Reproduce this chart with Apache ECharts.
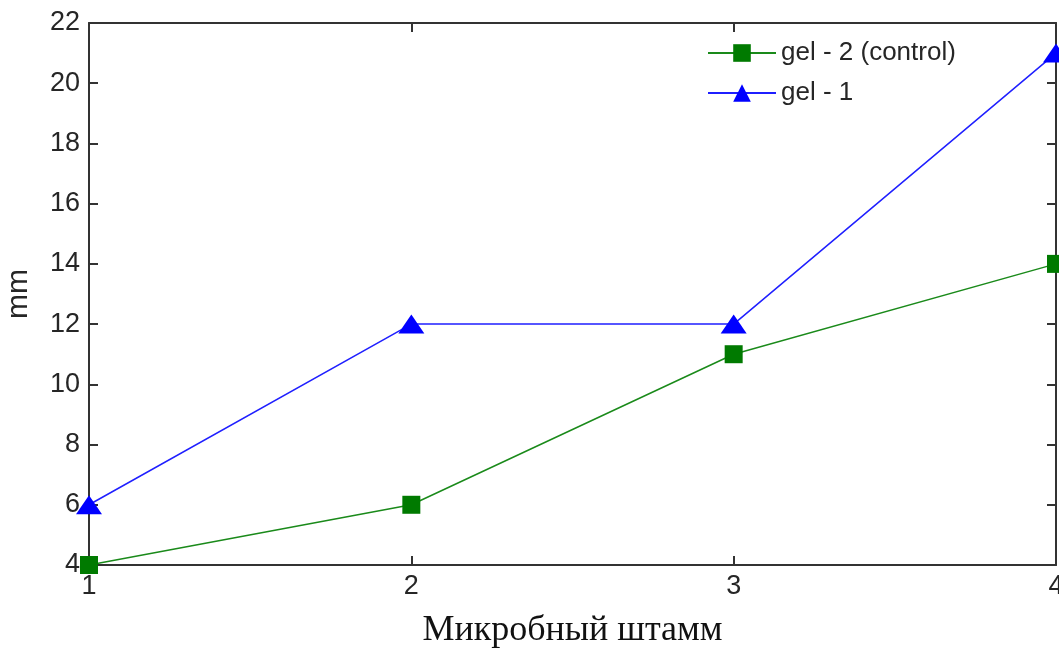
<!DOCTYPE html>
<html>
<head>
<meta charset="utf-8">
<script src="https://cdn.jsdelivr.net/npm/echarts@6/dist/echarts.min.js"></script>
<style>html,body{margin:0;padding:0;background:#fff}#c{width:1059px;height:650px}</style>
</head>
<body>
<div id="c"></div>
<script>
const strains = [1, 2, 3, 4];
const gel2Control = [4, 6, 11, 14];
const gel1 = [6, 12, 12, 21];
const seriesNames = ['gel - 2 (control)', 'gel - 1'];
const xTitle = 'Микробный штамм';
const yTitle = 'mm';

const axisColor = '#333';
const textColor = '#262626';
const chart = echarts.init(document.getElementById('c'), null, {renderer: 'canvas'});

function baseAxis(extra) {
  return Object.assign({
    type: 'value',
    axisLine: {show: true, onZero: false, lineStyle: {color: axisColor, width: 2}},
    axisTick: {show: true, inside: true, length: 9, lineStyle: {color: axisColor, width: 2}},
    splitLine: {show: false},
    axisLabel: {show: false}
  }, extra);
}

chart.setOption({
  animation: false,
  grid: {left: 89, right: 3, top: 23, bottom: 85, containLabel: false, outerBoundsMode: 'none'},
  legend: {
    orient: 'vertical',
    left: 707, top: 40, padding: 0,
    itemWidth: 68, itemHeight: 22, itemGap: 14,
    textStyle: {fontFamily: 'Liberation Sans', fontSize: 26, color: textColor},
    data: seriesNames
  },
  xAxis: [
    baseAxis({
      position: 'bottom', min: 1, max: 4, interval: 1,
      axisLabel: {show: true, margin: 8, fontFamily: 'Liberation Sans', fontSize: 27, color: textColor},
      name: xTitle, nameLocation: 'middle', nameGap: 48,
      nameTextStyle: {fontFamily: 'Liberation Serif', fontSize: 36, color: '#111'}
    }),
    baseAxis({position: 'top', min: 1, max: 4, interval: 1})
  ],
  yAxis: [
    baseAxis({
      position: 'left', min: 4, max: 22, interval: 2,
      axisLabel: {show: true, margin: 9, fontFamily: 'Liberation Sans', fontSize: 27, color: textColor},
      name: yTitle, nameLocation: 'middle', nameGap: 55,
      nameTextStyle: {fontFamily: 'Liberation Sans', fontSize: 30, color: textColor}
    }),
    baseAxis({position: 'right', min: 4, max: 22, interval: 2})
  ],
  series: [
    {
      name: seriesNames[0], type: 'line',
      data: strains.map((x, i) => [x, gel2Control[i]]),
      symbol: 'rect', symbolSize: 18,
      lineStyle: {color: '#1a8a1a', width: 1.5},
      itemStyle: {color: '#007a00'},
      clip: false, z: 3
    },
    {
      name: seriesNames[1], type: 'line',
      data: strains.map((x, i) => [x, gel1[i]]),
      symbol: 'triangle', symbolSize: [26, 19],
      lineStyle: {color: '#1f1fff', width: 1.5},
      itemStyle: {color: '#0000ff'},
      clip: false, z: 4
    }
  ]
});
</script>
</body>
</html>
